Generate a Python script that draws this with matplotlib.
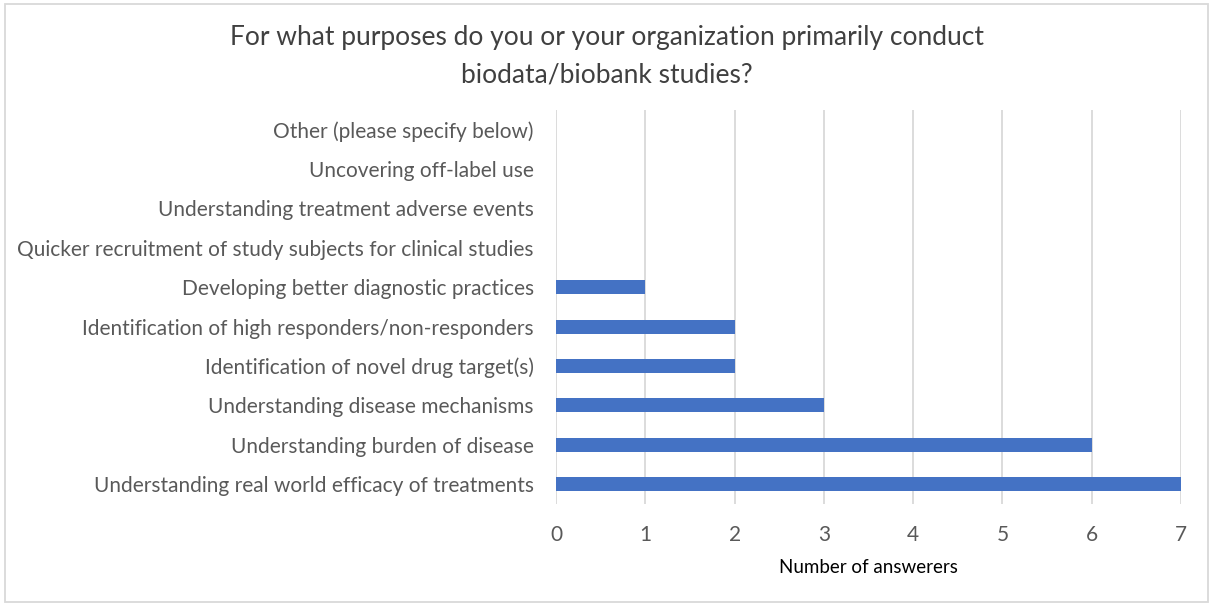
import matplotlib.pyplot as plt
from matplotlib.patches import Rectangle

plt.rcParams['font.family'] = ['Lato', 'DejaVu Sans']

purposes = [
    "Understanding real world efficacy of treatments",
    "Understanding burden of disease",
    "Understanding disease mechanisms",
    "Identification of novel drug target(s)",
    "Identification of high responders/non-responders",
    "Developing better diagnostic practices",
    "Quicker recruitment of study subjects for clinical studies",
    "Understanding treatment adverse events",
    "Uncovering off-label use",
    "Other (please specify below)",
]
answers = [7, 6, 3, 2, 2, 1, 0, 0, 0, 0]
x_ticks = [0, 1, 2, 3, 4, 5, 6, 7]

BAR_COLOR = "#4472C4"
GRID_COLOR = "#D9D9D9"
TEXT_COLOR = "#595959"

fig = plt.figure(figsize=(12.13, 6.04), dpi=100)
ax = fig.add_axes([0.4584, 0.1656, 0.9736 - 0.4584, 0.8179 - 0.1656])

ypos = list(range(len(purposes)))
ax.barh(ypos, answers, height=0.355, color=BAR_COLOR, zorder=3)

ax.set_xlim(0, 7)
ax.set_ylim(-0.5, len(purposes) - 0.5)
ax.set_xticks(x_ticks)
ax.set_yticks(ypos)
ax.set_yticklabels(purposes)
ax.grid(axis="x", color=GRID_COLOR, linewidth=1.3, zorder=0)
ax.tick_params(axis="both", length=0, labelsize=15, colors=TEXT_COLOR)
ax.tick_params(axis="x", pad=15)
ax.tick_params(axis="y", pad=16)
for s in ax.spines.values():
    s.set_visible(False)

ax.set_xlabel("Number of answerers", fontsize=13.5, color="#000000", labelpad=10)

fig.suptitle("For what purposes do you or your organization primarily conduct\nbiodata/biobank studies?",
             fontsize=19, color="#404040", y=0.958, linespacing=1.6)

# light frame around the whole chart
fig.patches.append(Rectangle((0.004, 0.004), 0.992, 0.99, transform=fig.transFigure,
                             fill=False, edgecolor=GRID_COLOR, linewidth=1.3))

fig.savefig("out.png", dpi=100)
